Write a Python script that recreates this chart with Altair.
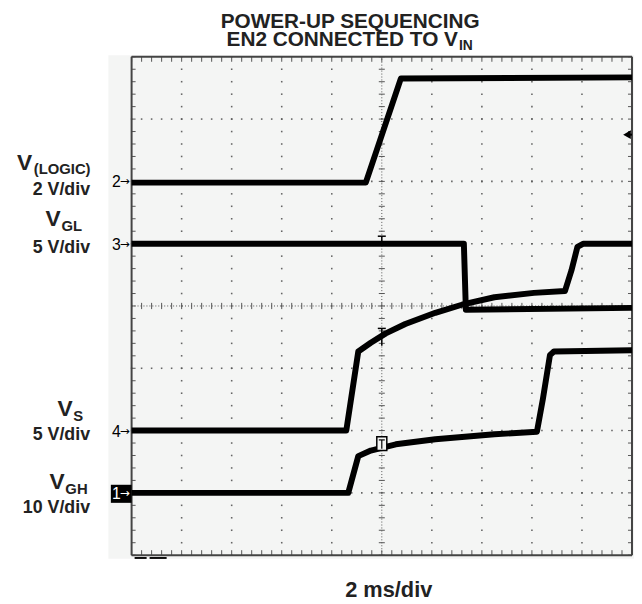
import altair as alt
import pandas as pd

# ---- trace data: x in horizontal divisions (2 ms/div), y in vertical divisions from screen centre
ch2_x = [0.0, 4.68, 5.38, 10.0]          # V(LOGIC)
ch2_y = [1.98, 1.98, 3.65, 3.67]
ch3_x = [0.0, 6.64, 6.68, 10.0]          # VGL
ch3_y = [1.0, 1.0, -0.06, -0.03]
ch4_x = [0.0, 4.29, 4.53, 4.78, 5.08, 5.47, 6.07, 6.60, 7.25, 8.04, 8.66, 8.79, 8.91, 9.03, 10.0]   # VS
ch4_y = [-2.0, -2.0, -0.73, -0.59, -0.44, -0.29, -0.11, 0.02, 0.14, 0.21, 0.24, 0.57, 0.95, 1.0, 1.0]
ch1_x = [0.0, 4.33, 4.53, 4.78, 5.28, 6.07, 7.25, 8.10, 8.22, 8.36, 8.44, 10.0]   # VGH
ch1_y = [-3.0, -3.0, -2.41, -2.32, -2.22, -2.14, -2.06, -2.02, -1.49, -0.79, -0.73, -0.71]

# channel ground markers
marker_labels = ["2", "3", "4", "1"]
marker_levels = [2.0, 1.0, -2.0, -3.0]

title_line1 = "POWER-UP SEQUENCING"
title_line2 = "EN2 CONNECTED TO V"
title_sub = "IN"
xlabel = "2 ms/div"

FONT = "Liberation Sans"

# ---- geometry (view covers the grey screen area)
X0, X1 = -0.474, 10.04
Y0, Y1 = -4.048, 4.032
W, H = 532, 509

xs = alt.Scale(domain=[X0, X1], nice=False, zero=False)
ys = alt.Scale(domain=[Y0, Y1], nice=False, zero=False)

def X(f="x"):
    return alt.X(f"{f}:Q", scale=xs, axis=None)

def Y(f="y"):
    return alt.Y(f"{f}:Q", scale=ys, axis=None)

layers = []

# major dotted grid
dots = []
for i in range(1, 10):
    if i == 5:
        continue
    for k in range(0, 41):
        dots.append({"x": float(i), "y": -4 + 0.2 * k})
for j in range(-3, 4):
    if j == 0:
        continue
    for k in range(0, 51):
        dots.append({"x": 0.2 * k, "y": float(j)})
layers.append(alt.Chart(pd.DataFrame(dots)).mark_square(size=2.5, color="#555555", opacity=0.9).encode(x=X(), y=Y()))

# centre lines (fine dotted)
cl = pd.DataFrame({"x": [5.0, 0.0], "x2": [5.0, 10.0], "y": [-4.0, 0.0], "y2": [4.0, 0.0]})
layers.append(alt.Chart(cl).mark_rule(color="#555555", strokeWidth=1, strokeDash=[1, 2]).encode(
    x=X(), x2="x2:Q", y=Y(), y2="y2:Q"))

# centre-line cross ticks and border minor ticks
ct = []
for k in range(0, 51):
    x = 0.2 * k
    ct.append({"x": x, "x2": x, "y": -0.05, "y2": 0.05})
for k in range(0, 41):
    y = -4 + 0.2 * k
    ct.append({"x": 5 - 0.06, "x2": 5 + 0.06, "y": y, "y2": y})
for k in range(0, 51):
    x = 0.2 * k
    ct.append({"x": x, "x2": x, "y": 4.0, "y2": 3.92})
    ct.append({"x": x, "x2": x, "y": -4.0, "y2": -3.92})
for k in range(0, 41):
    y = -4 + 0.2 * k
    ct.append({"x": 0.0, "x2": 0.08, "y": y, "y2": y})
    ct.append({"x": 10.0, "x2": 9.92, "y": y, "y2": y})
layers.append(alt.Chart(pd.DataFrame(ct)).mark_rule(color="#555555", strokeWidth=1).encode(
    x=X(), x2="x2:Q", y=Y(), y2="y2:Q"))

# border
bd = pd.DataFrame({"x": [0, 10, 0, 0], "x2": [0, 10, 10, 10], "y": [-4, -4, 4, -4], "y2": [4, 4, 4, -4]})
layers.append(alt.Chart(bd).mark_rule(color="#444444", strokeWidth=2).encode(
    x=X(), x2="x2:Q", y=Y(), y2="y2:Q"))

# small scope markers below the bottom border
bm = pd.DataFrame({"x": [0.06, 0.36], "x2": [0.30, 0.70], "y": [-4.03, -4.03], "y2": [-4.06, -4.06]})
layers.append(alt.Chart(bm).mark_rect(color="black").encode(x=X(), x2="x2:Q", y=Y(), y2="y2:Q"))

# traces
for name, tx, ty in [("2", ch2_x, ch2_y), ("3", ch3_x, ch3_y), ("4", ch4_x, ch4_y), ("1", ch1_x, ch1_y)]:
    df = pd.DataFrame({"x": tx, "y": ty, "i": list(range(len(tx)))})
    layers.append(alt.Chart(df).mark_line(color="black", strokeWidth=6, strokeJoin="round").encode(
        x=X(), y=Y(), order="i:Q"))

# trigger "T" marks on traces
tm = pd.DataFrame({"x": [4.92, 5.0, 4.92, 5.0], "x2": [5.08, 5.0, 5.08, 5.0],
                   "y": [1.12, 1.12, -0.36, -0.36], "y2": [1.12, 1.0, -0.36, -0.64]})
layers.append(alt.Chart(tm).mark_rule(color="black", strokeWidth=1.5).encode(
    x=X(), x2="x2:Q", y=Y(), y2="y2:Q"))
tb = pd.DataFrame({"x": [4.9], "x2": [5.1], "y": [-2.1], "y2": [-2.32]})
layers.append(alt.Chart(tb).mark_rect(fill="#f4f5f4", stroke="black", strokeWidth=1.5).encode(
    x=X(), x2="x2:Q", y=Y(), y2="y2:Q"))
tb2 = pd.DataFrame({"x": [4.94, 5.0], "x2": [5.06, 5.0], "y": [-2.15, -2.15], "y2": [-2.15, -2.29]})
layers.append(alt.Chart(tb2).mark_rule(color="black", strokeWidth=1.2).encode(
    x=X(), x2="x2:Q", y=Y(), y2="y2:Q"))

# channel markers
mk = pd.DataFrame({"lab": marker_labels, "y": marker_levels})
mk["col"] = ["black", "black", "black", "white"]
mk["y_top"] = mk["y"] + 0.13
mk["y_bot"] = mk["y"] - 0.16
box = mk[mk.lab == "1"]
layers.append(alt.Chart(box).mark_rect(color="black").encode(
    x=alt.value(3), x2=alt.value(24), y=Y("y_top"), y2="y_bot:Q"))
layers.append(alt.Chart(mk).mark_text(font=FONT, fontSize=16, align="right", baseline="middle", dy=1).encode(
    x=alt.value(13), y=Y(), text="lab:N", color=alt.Color("col:N", scale=None)))
layers.append(alt.Chart(mk).mark_text(font="DejaVu Sans", fontSize=12, align="left", baseline="middle", text="→").encode(
    x=alt.value(12), y=Y(), color=alt.Color("col:N", scale=None)))

# trigger level arrow
layers.append(alt.Chart(pd.DataFrame({"x": [9.90], "y": [2.75]})).mark_point(
    shape="triangle-left", filled=True, color="black", size=80, opacity=1).encode(x=X(), y=Y()))
layers.append(alt.Chart(pd.DataFrame({"x": [9.9], "x2": [10.0], "y": [2.75]})).mark_rule(
    color="black", strokeWidth=2).encode(x=X(), x2="x2:Q", y=Y()))

# texts outside the screen (absolute page positions converted to view-relative)
OX, OY = 109, 52

def txt(s, x, y, size, align="center", weight="bold"):
    return alt.Chart(pd.DataFrame({"t": [s]})).mark_text(
        font=FONT, fontSize=size, fontWeight=weight, align=align, baseline="middle", color="#222222"
    ).encode(x=alt.value(x - OX), y=alt.value(y - OY), text="t:N")

layers += [
    txt(title_line1, 354, 19, 21),
    txt(title_line2, 229, 37, 21, align="left"),
    txt(title_sub, 464, 43, 14, align="left"),
    txt("V", 17, 161, 23, align="left"),
    txt("(LOGIC)", 34, 168, 15, align="left"),
    txt("2 V/div", 91, 189, 18, align="right"),
    txt("V", 46, 218, 23, align="left"),
    txt("GL", 62, 225, 15, align="left"),
    txt("5 V/div", 91, 247, 18, align="right"),
    txt("V", 58, 410, 23, align="left"),
    txt("S", 74, 417, 15, align="left"),
    txt("5 V/div", 91, 437, 18, align="right"),
    txt("V", 50, 484, 23, align="left"),
    txt("GH", 66, 491, 15, align="left"),
    txt("10 V/div", 91, 510, 18, align="right"),
    txt(xlabel, 393, 593, 22),
]

chart = alt.layer(*layers).properties(
    width=W, height=H,
    autosize=alt.AutoSizeParams(type="none"),
    padding={"left": OX - 8, "top": OY - 8, "right": 0, "bottom": 40},
    background="white",
).configure_view(fill="#f4f5f4", stroke="transparent")

chart.save("out.html", embed_options={"renderer": "svg", "actions": False})
